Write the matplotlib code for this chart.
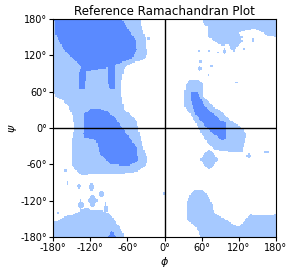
import numpy as np
import matplotlib
matplotlib.use("Agg")
import matplotlib.pyplot as plt
from matplotlib.path import Path
from matplotlib.colors import ListedColormap

# Region outlines (phi, psi) in degrees
# "allowed" = light blue, "favoured" = dark blue
allowed_main = [(-180, 180), (-39, 180), (-37, 168), (-31, 151), (-28, 121), (-34, 112),
                (-47, 110), (-58, 104), (-66, 96), (-69, 79), (-69, 52), (-65, 30),
                (-55, 22), (-44, 10), (-40, -10), (-35, -30), (-27, -52), (-30, -62),
                (-44, -72), (-70, -76), (-100, -75), (-115, -76), (-133, -78), (-142, -72),
                (-150, -60), (-150, -40), (-150, -20), (-146, 0), (-148, 20), (-155, 35),
                (-163, 45), (-175, 52), (-180, 60)]
allowed_bottom_left = [(-180, -180), (-180, -156), (-170, -152), (-159, -145), (-148, -143),
                       (-137, -137), (-126, -131), (-116, -137), (-99, -137), (-91, -140),
                       (-83, -148), (-78, -156), (-72, -164), (-67, -173), (-65, -180)]
allowed_left_handed = [(31, 49), (34, 70), (40, 80), (55, 80), (63, 71), (63, 52), (79, 35),
                       (90, 29), (106, 13), (123, 2), (133, -10), (128, -27), (125, -40),
                       (110, -40), (95, -38), (80, -36), (70, -25), (60, -10), (50, 10),
                       (40, 25), (32, 35)]
allowed_top_right = [(61, 180), (64, 170), (71, 167), (71, 150), (79, 145), (87, 139),
                     (96, 136), (104, 139), (108, 128), (114, 126), (116, 134), (126, 144),
                     (120, 158), (133, 162), (145, 164), (155, 160), (166, 153), (180, 150),
                     (180, 180)]
allowed_bottom_right = [(58, -180), (56, -172), (49, -162), (37, -153), (36, -135), (37, -120),
                        (42, -108), (50, -102), (60, -102), (68, -108), (77, -125), (80, -140),
                        (90, -146), (102, -153), (112, -160), (120, -162), (130, -152),
                        (139, -142), (150, -145), (166, -145), (180, -142), (180, -180)]
# small scattered patches: centre (phi, psi) and half-size (dphi, dpsi)
blob_phi = [72, 136, 164, 0, 124, 128, 97, 56, 72, 86, 57, 58, 76, 71, 116, 143,
            -116, -118, -102, -135, -157, -138, -95, -172, -26, -160]
blob_psi = [-52, -46, -40, -108, 150, 130, 126, 127, 127, 125, 98, 110, 102, 87, 75, 144,
            -120, -97, -109, -127, -92, -96, -133, -140, 148, -70]
blob_dphi = [15, 5, 5, 2, 4, 4, 4, 3, 2, 3, 4, 3, 2, 2, 2, 3,
             8, 5, 5, 6, 2, 6, 4, 3, 2, 3]
blob_dpsi = [18, 4, 3, 3, 4, 4, 5, 2, 2, 3, 4, 3, 3, 2, 2, 3,
             12, 9, 6, 9, 3, 4, 10, 4, 3, 3]

favoured_beta = [(-177, 180), (-177, 176), (-175, 154), (-164, 132), (-150, 116), (-134, 101),
                 (-138, 88), (-137, 65), (-129, 63), (-126, 85), (-126, 93), (-115, 96),
                 (-93, 99), (-92, 74), (-88, 63), (-81, 65), (-80, 90), (-80, 104),
                 (-53, 115), (-45, 129), (-47, 146), (-55, 157), (-69, 180)]
favoured_alpha = [(-118, 32), (-129, 24), (-131, -9), (-129, -15), (-110, -20), (-104, -43),
                  (-88, -60), (-58, -62), (-42, -54), (-45, -32), (-61, -10), (-80, 18),
                  (-93, 27), (-104, 32)]
favoured_left_handed = [(42, 60), (53, 60), (66, 35), (90, 13), (99, 10), (100, -18),
                        (93, -20), (79, -10), (63, 7), (50, 24), (42, 46)]
favoured_bottom = [(-92, -180), (-85, -170), (-78, -180)]

allowed = [allowed_main, allowed_bottom_left, allowed_left_handed, allowed_top_right,
           allowed_bottom_right]
for p, s, dp, ds in zip(blob_phi, blob_psi, blob_dphi, blob_dpsi):
    allowed.append([(p - dp, s), (p, s + ds), (p + dp, s), (p, s - ds)])
favoured = [favoured_beta, favoured_alpha, favoured_left_handed, favoured_bottom]

ticks = [-180, -120, -60, 0, 60, 120, 180]
tick_labels = [f"{t}°" for t in ticks]

# rasterise the outlines onto a 2 degree grid
step = 2
centers = np.arange(-180 + step / 2, 180, step)
PHI, PSI = np.meshgrid(centers, centers)
pts = np.column_stack([PHI.ravel(), PSI.ravel()])
grid = np.zeros(len(pts))
for poly in allowed:
    inside = Path(poly).contains_points(pts)
    grid[inside] = np.maximum(grid[inside], 1)
for poly in favoured:
    grid[Path(poly).contains_points(pts)] = 2
grid = grid.reshape(PHI.shape)

cmap = ListedColormap(["#ffffff", "#a6c9ff", "#5a8aff"])

fig = plt.figure(figsize=(2.92, 2.73), dpi=100)
ax = fig.add_axes([0.182, 0.132, 0.763, 0.798])
ax.imshow(grid, cmap=cmap, vmin=0, vmax=2, origin="lower", extent=[-180, 180, -180, 180],
          interpolation="nearest", aspect="auto")
ax.axhline(0, color="black", linewidth=1)
ax.axvline(0, color="black", linewidth=1)
ax.set_xlim(-180, 180)
ax.set_ylim(-180, 180)
ax.set_xticks(ticks)
ax.set_xticklabels(tick_labels, fontsize=7)
ax.set_yticks(ticks)
ax.set_yticklabels(tick_labels, fontsize=7)
ax.tick_params(length=3, pad=1.5)
ax.set_xlabel(r"$\phi$", fontsize=8, labelpad=1)
ax.set_ylabel(r"$\psi$", fontsize=8, labelpad=1)
ax.set_title("Reference Ramachandran Plot", fontsize=8.6, pad=3)
fig.savefig("out.png", dpi=100)
